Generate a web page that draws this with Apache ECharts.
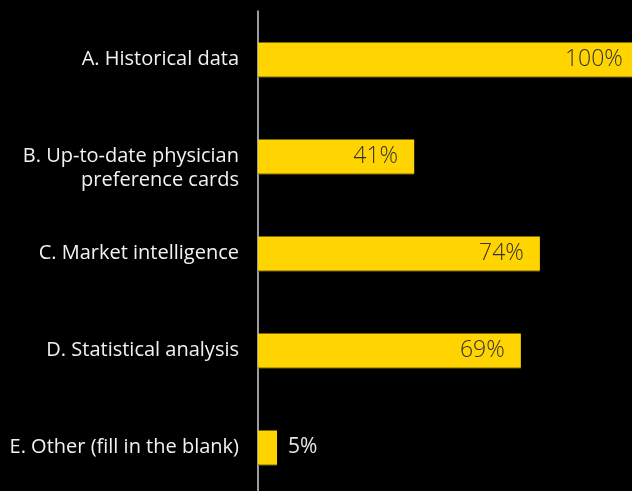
<!DOCTYPE html>
<html>
<head>
<meta charset="utf-8">
<script src="https://cdn.jsdelivr.net/npm/echarts@6/dist/echarts.min.js"></script>
<style>html,body{margin:0;padding:0;background:#000;overflow:hidden;width:632px;height:491px;}#c{width:632px;height:496px;}</style>
</head>
<body>
<div id="c"></div>
<script>
var categories = ['A. Historical data', 'B. Up-to-date physician\npreference cards', 'C. Market intelligence', 'D. Statistical analysis', 'E. Other (fill in the blank)'];
var values = [100, 41, 74, 69, 5];

var chart = echarts.init(document.getElementById('c'));
var data = values.map(function (v) {
  var item = { value: v };
  if (v < 15) {
    item.label = { position: 'right', distance: 11, color: '#e6e6e6', fontSize: 21, fontWeight: 400 };
  }
  return item;
});
chart.setOption({
  backgroundColor: '#000',
  animation: false,
  grid: { left: 258, right: 0, top: 11, bottom: 0, containLabel: false },
  xAxis: { type: 'value', min: 0, max: 98.2, show: false },
  yAxis: {
    type: 'category',
    data: categories,
    inverse: true,
    axisLine: { show: true, lineStyle: { color: '#d0d0d0', width: 1.5 } },
    axisTick: { show: false },
    axisLabel: {
      color: '#f2f2f2', fontSize: 20, fontFamily: 'Open Sans', margin: 19, lineHeight: 24, align: 'right',
      formatter: function (v) { return v.indexOf('\n') >= 0 ? '\n' + v : v; }
    }
  },
  series: [{
    type: 'bar',
    clip: false,
    data: data,
    barWidth: 34,
    itemStyle: { color: '#FFD400', shadowColor: '#7a6600', shadowOffsetY: 1, shadowBlur: 0 },
    label: {
      show: true,
      position: 'insideRight',
      distance: 16,
      formatter: '{c}%',
      color: '#333333',
      fontSize: 23,
      fontWeight: 300,
      fontFamily: 'Open Sans'
    }
  }]
});
</script>
</body>
</html>
